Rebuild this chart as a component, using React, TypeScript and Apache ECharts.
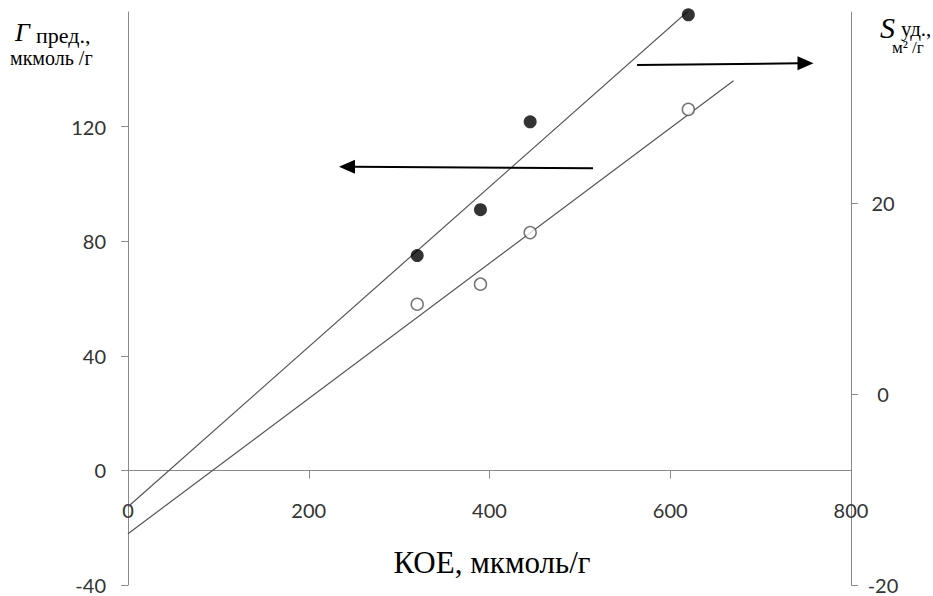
import React, { useEffect, useRef } from "react";
import * as echarts from "echarts";

// КОЕ values of the four samples, мкмоль/г
const koe = [320, 390, 445, 620];
// Γпред., мкмоль/г (open circles, left axis)
const gammaValues = [58, 65, 83, 126];
// Sуд., м²/г (filled circles, right axis)
const sValues = [14.5, 19.3, 28.5, 39.7];

// Linear trend lines, given by their end points [КОЕ, value]
const gammaTrend = [
  [0, -22.1],
  [670, 136],
];
const sTrend = [
  [0, -11.8],
  [670, 44.3],
];

// Axis ranges and tick steps: [min, max, interval]
const xRange = [0, 800, 200];
const gammaRange = [-40, 160, 40];
const sRange = [-20, 40, 20];

const axisGray = "#8a8a8a";
const labelColor = "#333333";
const serif = "'Liberation Serif', 'DejaVu Serif', serif";
const sans = "Lato, 'Open Sans', sans-serif";

const WIDTH = 933;
const HEIGHT = 596;
const GRID = { left: 128, right: 82, top: 12, bottom: 11 };

export default function App() {
  const ref = useRef<HTMLDivElement>(null);

  useEffect(() => {
    if (!ref.current) return;
    const chart = echarts.init(ref.current, undefined, { renderer: "svg" });

    const gammaPoints = koe.map((x, i) => [x, gammaValues[i]]);
    const sPoints = koe.map((x, i) => [x, sValues[i]]);

    // the КОЕ axis crosses the left axis at Γ = 0
    const gridHeight = HEIGHT - GRID.top - GRID.bottom;
    const xAxisOffset =
      -((0 - gammaRange[0]) / (gammaRange[1] - gammaRange[0])) * gridHeight;

    const txt = (
      text: string,
      x: number,
      y: number,
      size: number,
      italic = false,
      align = "left"
    ) => ({
      type: "text",
      x,
      y,
      z: 10,
      style: {
        text,
        fill: "#000",
        font: `${italic ? "italic " : ""}${size}px ${serif}`,
        lineHeight: Math.round(size * 0.75),
        align,
        verticalAlign: "middle",
      },
    });

    const arrow = (x1: number, y1: number, x2: number, y2: number) => {
      const dir = Math.sign(x2 - x1);
      const headLen = 16;
      const half = 7;
      const bx = x2 - dir * headLen;
      return [
        {
          type: "line",
          z: 10,
          shape: { x1, y1, x2: bx + dir * 2, y2 },
          style: { stroke: "#000", lineWidth: 2 },
        },
        {
          type: "polygon",
          z: 10,
          shape: {
            points: [
              [x2, y2],
              [bx, y2 - half],
              [bx, y2 + half],
            ],
          },
          style: { fill: "#000" },
        },
      ];
    };

    chart.setOption({
      animation: false,
      backgroundColor: "#fff",
      grid: {
        ...GRID,
        containLabel: false,
        outerBoundsMode: "none",
      },
      xAxis: {
        type: "value",
        min: xRange[0],
        max: xRange[1],
        interval: xRange[2],
        offset: xAxisOffset,
        axisLine: {
          show: true,
          onZero: false,
          lineStyle: { color: axisGray, width: 1 },
        },
        axisTick: { show: true, length: 8, lineStyle: { color: axisGray } },
        axisLabel: {
          margin: 30,
          color: labelColor,
          fontFamily: sans,
          fontSize: 20,
        },
        splitLine: { show: false },
      },
      yAxis: [
        {
          type: "value",
          position: "left",
          min: gammaRange[0],
          max: gammaRange[1],
          interval: gammaRange[2],
          axisLine: { show: true, onZero: false, lineStyle: { color: axisGray } },
          axisTick: { show: true, length: 7, lineStyle: { color: axisGray } },
          axisLabel: {
            margin: 22,
            color: labelColor,
            fontFamily: sans,
            fontSize: 20,
            showMaxLabel: false,
          },
          splitLine: { show: false },
        },
        {
          type: "value",
          position: "right",
          min: sRange[0],
          max: sRange[1],
          interval: sRange[2],
          axisLine: { show: true, onZero: false, lineStyle: { color: axisGray } },
          axisTick: { show: true, length: 7, lineStyle: { color: axisGray } },
          axisLabel: {
            margin: 32,
            align: "center",
            color: labelColor,
            fontFamily: sans,
            fontSize: 20,
            showMaxLabel: false,
          },
          splitLine: { show: false },
        },
      ],
      series: [
        {
          type: "line",
          yAxisIndex: 0,
          data: gammaTrend,
          showSymbol: false,
          symbol: "none",
          clip: true,
          lineStyle: { color: "#555", width: 1.2 },
          z: 2,
        },
        {
          type: "line",
          yAxisIndex: 1,
          data: sTrend,
          showSymbol: false,
          symbol: "none",
          clip: true,
          lineStyle: { color: "#555", width: 1.2 },
          z: 2,
        },
        {
          type: "scatter",
          yAxisIndex: 0,
          data: gammaPoints,
          symbol: "circle",
          symbolSize: 12,
          clip: false,
          itemStyle: { color: "#fff", borderColor: "#555", borderWidth: 1.5 },
          z: 3,
        },
        {
          type: "scatter",
          yAxisIndex: 1,
          data: sPoints,
          symbol: "circle",
          symbolSize: 13,
          clip: false,
          itemStyle: { color: "#000" },
          z: 3,
        },
      ],
      graphic: [
        // left axis title
        txt("Г", 15, 32, 26, true),
        txt("пред.,", 36, 35.5, 22),
        txt("мкмоль /г", 10, 58, 20),
        // right axis title
        txt("S", 880, 27, 30, true),
        txt("уд.,", 901, 29, 21),
        txt("м² /г", 892, 47, 17),
        // x axis title
        txt("КОЕ, мкмоль/г", 492, 562, 31, false, "center"),
        // arrows pointing to the axis each line belongs to
        ...arrow(593, 168.3, 339, 166.7),
        ...arrow(637, 65, 813.5, 63.3),
      ],
    });

    return () => chart.dispose();
  }, []);

  return (
    <div
      ref={ref}
      style={{ position: "fixed", left: 0, top: 0, width: WIDTH, height: HEIGHT }}
    />
  );
}
